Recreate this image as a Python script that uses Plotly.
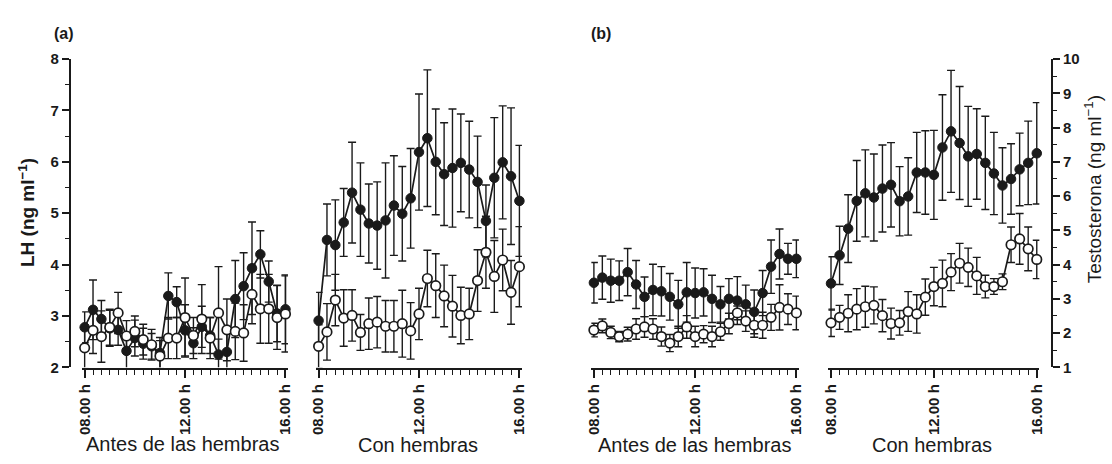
import plotly.graph_objects as go

# ---------------- data ----------------
times = ["08:00", "08:20", "08:40", "09:00", "09:20", "09:40", "10:00", "10:20", "10:40",
         "11:00", "11:20", "11:40", "12:00", "12:20", "12:40", "13:00", "13:20", "13:40",
         "14:00", "14:20", "14:40", "15:00", "15:20", "15:40", "16:00"]
tick_labels = ["08.00 h", "12.00 h", "16.00 h"]
tick_times = ["08:00", "12:00", "16:00"]

# (a) LH, before females
lh_antes_filled = [2.78, 3.12, 2.94, 2.76, 2.73, 2.32, 2.57, 2.46, 2.41, 2.28, 3.39, 3.27, 2.72,
                   2.47, 2.79, 2.62, 2.25, 2.30, 3.33, 3.58, 3.93, 4.20, 3.67, 3.05, 3.13]
lh_antes_filled_err = [0.30, 0.58, 0.36, 0.35, 0.30, 0.35, 0.35, 0.30, 0.25, 0.30, 0.45, 0.30, 0.50,
                       0.30, 0.40, 0.35, 0.30, 0.45, 0.75, 0.65, 0.90, 0.46, 0.40, 0.55, 0.67]
lh_antes_open = [2.38, 2.72, 2.60, 2.78, 3.06, 2.61, 2.70, 2.54, 2.44, 2.22, 2.57, 2.57, 2.97,
                 2.62, 2.94, 2.57, 3.06, 2.73, 2.70, 2.67, 3.42, 3.14, 3.14, 2.97, 3.04]
lh_antes_open_err = [0.40, 0.45, 0.50, 0.35, 0.40, 0.30, 0.30, 0.30, 0.30, 0.30, 0.40, 0.40, 0.77,
                     0.35, 0.67, 0.40, 0.90, 0.60, 0.55, 0.55, 0.57, 0.67, 0.67, 0.62, 0.74]

# (a) LH, with females
lh_con_filled = [2.91, 4.48, 4.38, 4.82, 5.40, 5.07, 4.80, 4.76, 4.86, 5.15, 4.99, 5.29, 6.19,
                 6.46, 6.00, 5.76, 5.88, 5.98, 5.85, 5.61, 4.85, 5.69, 5.99, 5.72, 5.24]
lh_con_filled_err = [0.55, 0.70, 0.88, 0.66, 0.98, 0.91, 0.77, 0.85, 1.12, 0.97, 0.92, 0.97, 1.13,
                     1.33, 1.03, 1.00, 1.15, 0.95, 0.94, 0.89, 0.70, 1.17, 1.10, 1.33, 1.08]
lh_con_open = [2.41, 2.69, 3.31, 2.96, 3.01, 2.68, 2.85, 2.88, 2.80, 2.80, 2.85, 2.71, 3.04,
               3.73, 3.59, 3.39, 3.19, 3.01, 3.04, 3.69, 4.24, 3.77, 4.09, 3.46, 3.96]
lh_con_open_err = [0.42, 0.55, 0.50, 0.55, 0.50, 0.35, 0.50, 0.50, 0.50, 0.50, 0.65, 0.55, 0.50,
                   0.55, 0.62, 0.60, 0.60, 0.55, 0.50, 0.60, 0.70, 0.70, 0.60, 0.62, 0.78]

# (b) Testosterone, before females
t_antes_filled = [3.47, 3.62, 3.53, 3.53, 3.78, 3.42, 3.06, 3.26, 3.22, 3.06, 2.84, 3.19, 3.17,
                  3.19, 3.00, 2.84, 3.00, 2.95, 2.84, 2.62, 3.17, 3.94, 4.31, 4.17, 4.17]
t_antes_filled_err = [0.59, 0.63, 0.63, 0.58, 0.69, 0.70, 0.58, 0.75, 0.72, 0.68, 0.70, 0.87, 0.73,
                      0.69, 0.69, 0.52, 0.59, 0.70, 0.56, 0.64, 0.66, 0.78, 0.73, 0.45, 0.55]
t_antes_open = [2.09, 2.21, 2.02, 1.90, 1.97, 2.12, 2.18, 2.12, 1.90, 1.71, 1.90, 2.18, 1.90,
                1.97, 1.90, 2.04, 2.28, 2.59, 2.35, 2.23, 2.23, 2.46, 2.75, 2.70, 2.59]
t_antes_open_err = [0.20, 0.20, 0.18, 0.15, 0.20, 0.30, 0.30, 0.30, 0.28, 0.25, 0.30, 0.33, 0.30,
                    0.25, 0.30, 0.25, 0.30, 0.20, 0.30, 0.35, 0.38, 0.38, 0.66, 0.45, 0.49]

# (b) Testosterone, with females
t_con_filled = [3.45, 4.27, 5.05, 5.86, 6.08, 5.96, 6.22, 6.33, 5.85, 5.99, 6.69, 6.69, 6.62,
                7.42, 7.89, 7.55, 7.16, 7.23, 6.97, 6.66, 6.31, 6.50, 6.78, 6.97, 7.25]
t_con_filled_err = [0.78, 0.85, 0.99, 1.18, 1.27, 1.27, 1.27, 1.23, 1.01, 1.13, 1.17, 1.22, 1.30,
                    1.54, 1.78, 1.65, 1.46, 1.32, 1.36, 1.20, 1.10, 1.03, 1.06, 1.22, 1.48]
t_con_open = [2.30, 2.46, 2.58, 2.70, 2.77, 2.81, 2.51, 2.28, 2.30, 2.63, 2.56, 3.05, 3.36,
              3.45, 3.78, 4.04, 3.92, 3.67, 3.36, 3.36, 3.50, 4.58, 4.75, 4.46, 4.15]
t_con_open_err = [0.40, 0.35, 0.54, 0.60, 0.60, 0.54, 0.47, 0.45, 0.36, 0.58, 0.56, 0.53, 0.56,
                  0.68, 0.54, 0.58, 0.56, 0.54, 0.33, 0.23, 0.23, 0.52, 0.74, 0.64, 0.56]

# ---------------- helpers ----------------
W, H = 1112, 464
INK = "#1a1a1a"
FONT = "Liberation Sans, Arial, sans-serif"


def to_hours(t):
    h, m = t.split(":")
    return int(h) + int(m) / 60.0


hours = [to_hours(t) for t in times]
tick_hours = [to_hours(t) for t in tick_times]

fig = go.Figure()

panels = [
    ("x", "y", lh_antes_filled, lh_antes_filled_err, lh_antes_open, lh_antes_open_err),
    ("x2", "y", lh_con_filled, lh_con_filled_err, lh_con_open, lh_con_open_err),
    ("x3", "y2", t_antes_filled, t_antes_filled_err, t_antes_open, t_antes_open_err),
    ("x4", "y2", t_con_filled, t_con_filled_err, t_con_open, t_con_open_err),
]

for xa, ya, fv, fe, ov, oe in panels:
    fig.add_trace(go.Scatter(
        x=hours, y=fv, xaxis=xa, yaxis=ya, mode="lines+markers",
        line=dict(color=INK, width=1.7),
        marker=dict(size=9.5, color=INK, line=dict(color=INK, width=1)),
        error_y=dict(type="data", array=fe, visible=True, color=INK, thickness=1.4, width=4),
        cliponaxis=False, showlegend=False))
    fig.add_trace(go.Scatter(
        x=hours, y=ov, xaxis=xa, yaxis=ya, mode="lines+markers",
        line=dict(color=INK, width=1.7),
        marker=dict(size=9.5, color="white", line=dict(color=INK, width=1.7)),
        error_y=dict(type="data", array=oe, visible=True, color=INK, thickness=1.4, width=4),
        cliponaxis=False, showlegend=False))

# pixel geometry of each panel's 08.00 h and 16.00 h positions
panel_px = [(78.5, 281.5), (315.0, 518.0), (593.3, 798.0), (833.0, 1041.0)]
pad_h = 0.1
x_axis_y = 1 - 374 / H
y_dom = [1 - 372 / H, 1 - 52 / H]

tickfont = dict(family=FONT, size=15, color=INK, weight="bold")

for k, (a, b) in enumerate(panel_px):
    s = (b - a) / 8.0
    dom = [(a - pad_h * s) / W, (b + pad_h * s) / W]
    name = "xaxis" if k == 0 else f"xaxis{k + 1}"
    fig.layout[name] = dict(
        domain=dom, range=[8 - pad_h, 16 + pad_h], anchor="free", position=x_axis_y,
        showline=True, linecolor=INK, linewidth=1.8, showgrid=False, zeroline=False,
        tickmode="array", tickvals=tick_hours, ticktext=tick_labels, tickangle=-90,
        ticks="outside", ticklen=8, tickwidth=1.5, tickcolor=INK, tickfont=tickfont,
        minor=dict(dtick=1 / 3, tick0=8, ticks="outside", ticklen=5, tickwidth=1.3,
                   tickcolor=INK, showgrid=False),
    )

fig.update_layout(
    yaxis=dict(domain=y_dom, range=[2, 8], anchor="free", position=63.5 / W, side="left",
               showline=True, linecolor=INK, linewidth=1.8, showgrid=False, zeroline=False,
               tickmode="linear", tick0=2, dtick=1, ticks="outside", ticklen=7, tickwidth=1.5,
               tickcolor=INK, tickfont=tickfont,
               minor=dict(dtick=0.5, ticks="outside", ticklen=4, tickwidth=1.3,
                          tickcolor=INK, showgrid=False)),
    yaxis2=dict(domain=y_dom, range=[1, 10], anchor="free", position=1056.5 / W, side="right",
                showline=True, linecolor=INK, linewidth=1.8, showgrid=False, zeroline=False,
                tickmode="linear", tick0=1, dtick=1, ticks="outside", ticklen=7, tickwidth=1.5,
                tickcolor=INK, tickfont=tickfont,
                minor=dict(dtick=0.5, ticks="outside", ticklen=4, tickwidth=1.3,
                           tickcolor=INK, showgrid=False)),
    width=W, height=H, margin=dict(l=0, r=0, t=0, b=0),
    paper_bgcolor="white", plot_bgcolor="white",
    font=dict(family=FONT, color=INK),
)


def ann(text, px, py, size, angle=0, bold=False):
    fig.add_annotation(
        text=f"<b>{text}</b>" if bold else text, x=px / W, y=1 - py / H,
        xref="paper", yref="paper", showarrow=False, textangle=angle,
        xanchor="center", yanchor="middle", font=dict(family=FONT, size=size, color=INK))


ann("(a)", 58, 25, 16, bold=True)
ann("(b)", 600, 25, 16, bold=True)
ann("LH (ng ml<sup>−1</sup>)", 20, 211, 19, angle=-90, bold=True)
ann("Testosterona (ng ml<sup>−1</sup>)", 1098, 187, 19, angle=-90)
ann("Antes de las hembras", 177, 452, 20)
ann("Con hembras", 415, 453, 20)
ann("Antes de las hembras", 695, 453, 20)
ann("Con hembras", 935, 453, 20)

fig.write_html("out.html")
